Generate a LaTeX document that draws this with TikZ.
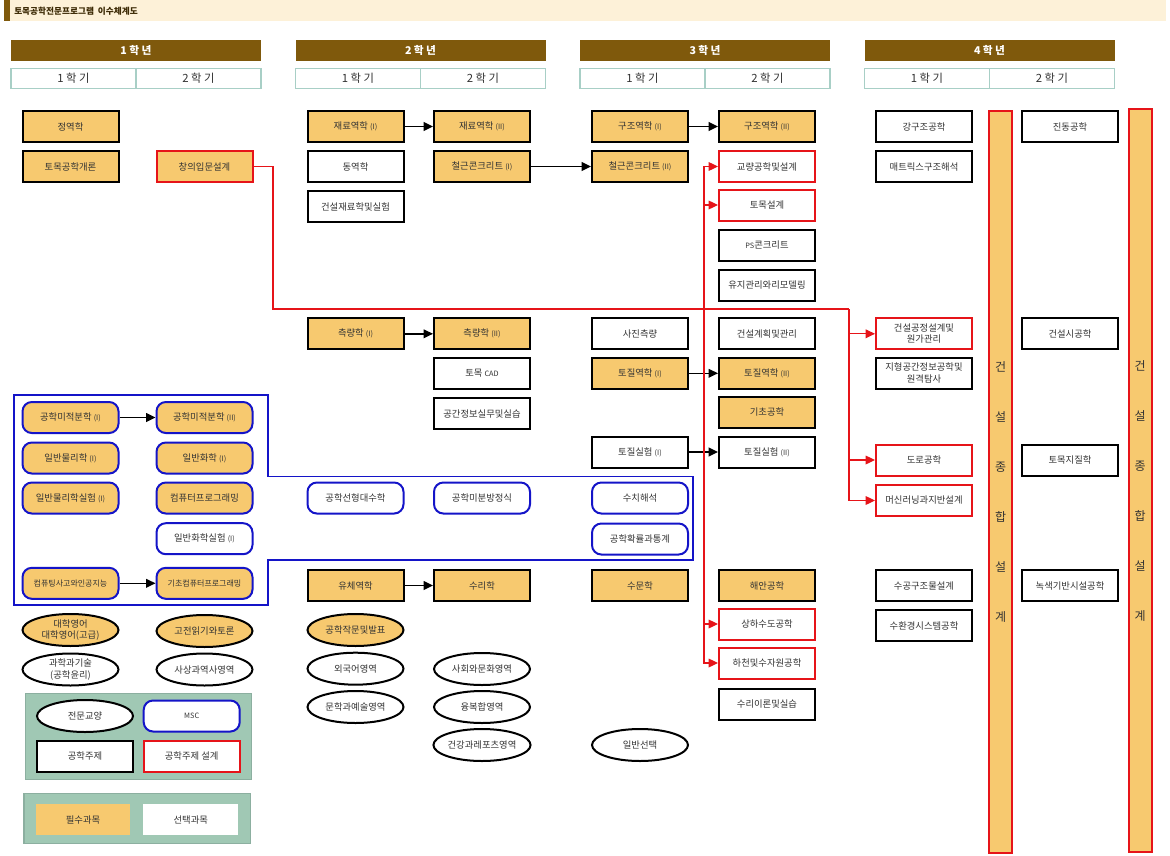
\documentclass[tikz,border=0pt]{standalone}
\usepackage{fontspec}
\newfontfamily\kr{Noto Sans CJK KR}
\usetikzlibrary{shapes.geometric,arrows.meta}
\definecolor{orng}{RGB}{247,201,111}
\definecolor{brn}{RGB}{127,89,12}
\definecolor{beig}{RGB}{253,241,216}
\definecolor{semc}{RGB}{168,207,198}
\definecolor{txt}{RGB}{51,51,51}
\definecolor{redc}{RGB}{230,20,25}
\definecolor{bluec}{RGB}{20,20,200}
\definecolor{legf}{RGB}{160,200,180}
\definecolor{legb}{RGB}{140,175,160}
\newcommand\rnum[1]{{\fontsize{5.5}{6}\selectfont(#1)}}
\newcommand\smallt[1]{{\fontsize{5.5}{6}\selectfont #1}}
\begin{document}
\begin{tikzpicture}[x=0.75pt,y=-0.75pt,
  base/.style={font=\kr\fontsize{7}{8.5}\selectfont, text=txt, inner sep=0pt, align=center},
  coursebox/.style={base, rectangle, draw=black, line width=1.5pt, minimum width=72pt, minimum height=23.25pt},
  required/.style={fill=orng},
  redframe/.style={draw=redc},
  mscbox/.style={base, rectangle, rounded corners=7pt, draw=bluec, line width=1.5pt, minimum width=72pt, minimum height=23.25pt},
  genov/.style={base, ellipse, draw=black, line width=1.5pt, minimum width=72pt, minimum height=24pt},
  arr/.style={line width=1.1pt, -{Triangle[length=7pt,width=6.5pt]}},
  rline/.style={draw=redc, line width=0.8pt},
  rarr/.style={draw=redc, line width=0.9pt, -{Triangle[length=7pt,width=6.5pt]}, redc},
  yearbox/.style={rectangle, fill=brn, minimum width=187.5pt, minimum height=15.75pt, inner sep=0pt, text=white, font=\kr\bfseries\fontsize{8}{9}\selectfont},
  sembox/.style={rectangle, draw=semc, line width=1.2pt, fill=white, minimum width=93.75pt, minimum height=15pt, inner sep=0pt, text=txt, font=\kr\fontsize{8.5}{9}\selectfont},
  bar/.style={rectangle, draw=redc, fill=orng, line width=1.2pt, minimum width=17.25pt, inner sep=0pt},
  barch/.style={text=txt, inner sep=0pt, font=\kr\fontsize{9}{10}\selectfont}
]
\useasboundingbox (0,0) rectangle (1170,856);
\fill[white] (0,0) rectangle (1170,856);
% title bar
\fill[beig] (4,0) rectangle (1166,21);
\fill[brn] (4,0) rectangle (10,21);
\node[anchor=west, inner sep=0pt, text={rgb,255:red,60;green,42;blue,5}, font=\kr\bfseries\fontsize{6.5}{7}\selectfont] (title) at (14,11) {토목공학전문프로그램~~이수체계도};
% year headers
\node[yearbox] (y1) at (136,50.5) {1 학 년};
\node[yearbox] (y2) at (420.5,50.5) {2 학 년};
\node[yearbox] (y3) at (705,50.5) {3 학 년};
\node[yearbox] (y4) at (989.5,50.5) {4 학 년};
\node[sembox] (s11) at (73.5,78.5) {1 학 기};
\node[sembox] (s12) at (198.5,78.5) {2 학 기};
\node[sembox] (s21) at (358,78.5) {1 학 기};
\node[sembox] (s22) at (483,78.5) {2 학 기};
\node[sembox] (s31) at (642.5,78.5) {1 학 기};
\node[sembox] (s32) at (767.5,78.5) {2 학 기};
\node[sembox] (s41) at (927,78.5) {1 학 기};
\node[sembox] (s42) at (1052,78.5) {2 학 기};
% blue MSC frame
\draw[bluec, line width=1.1pt] (14,395) -- (268,395) -- (268,476.7) -- (693,476.7) -- (693,560) -- (268,560) -- (268,605) -- (14,605) -- cycle;
% year 1
\node[coursebox,required] (jy) at (70.5,126.5) {정역학};
\node[coursebox,required] (tg) at (70.5,166.5) {토목공학개론};
\node[coursebox,required,redframe] (cr) at (204.5,166.5) {창의입문설계};
\node[mscbox,required] (mj1) at (70.5,417.5) {공학미적분학 \rnum{I}};
\node[mscbox,required] (mj2) at (204.5,417.5) {공학미적분학 \rnum{II}};
\node[mscbox,required] (ip) at (70.5,458) {일반물리학 \rnum{I}};
\node[mscbox,required] (ih) at (204.5,458) {일반화학 \rnum{I}};
\node[mscbox,required] (ipe) at (70.5,498) {일반물리학실험 \rnum{I}};
\node[mscbox,required] (cp) at (204.5,498) {컴퓨터프로그래밍};
\node[mscbox] (ihe) at (204.5,538.7) {일반화학실험 \rnum{I}};
\node[mscbox,required,font=\kr\fontsize{6}{7}\selectfont] (ct) at (70.5,583.3) {컴퓨팅사고와인공지능};
\node[mscbox,required,font=\kr\fontsize{6}{7}\selectfont] (gc) at (204.5,583.3) {기초컴퓨터프로그래밍};
\node[genov,required] (de) at (70.5,630) {대학영어\\대학영어(고급)};
\node[genov,required] (gd) at (204.5,631) {고전읽기와토론};
\node[genov] (gk) at (70.5,669.5) {과학과기술\\(공학윤리)};
\node[genov] (sy) at (204.5,669.5) {사상과역사영역};
% year 2
\node[coursebox,required] (jr1) at (355.5,126.5) {재료역학 \rnum{I}};
\node[coursebox] (dy) at (355.5,166.5) {동역학};
\node[coursebox] (gjs) at (355.5,206.5) {건설재료학및실험};
\node[coursebox,required] (cl1) at (355.5,333.8) {측량학 \rnum{I}};
\node[mscbox] (sd) at (355.5,498) {공학선형대수학};
\node[coursebox,required] (yc) at (355.5,585.5) {유체역학};
\node[genov,required] (jm) at (355.5,630) {공학작문및발표};
\node[genov] (wg) at (355.5,668.7) {외국어영역};
\node[genov] (ma) at (355.5,707) {문학과예술영역};
\node[coursebox,required] (jr2) at (482,126.5) {재료역학 \rnum{II}};
\node[coursebox,required] (ch1) at (482,166.5) {철근콘크리트 \rnum{I}};
\node[coursebox,required] (cl2) at (482,333.8) {측량학 \rnum{II}};
\node[coursebox] (cad) at (482,373.3) {토목 \smallt{CAD}};
\node[coursebox] (gg) at (482,413.5) {공간정보실무및실습};
\node[mscbox] (mb) at (482,498) {공학미분방정식};
\node[coursebox,required] (sr) at (482,585.5) {수리학};
\node[genov] (sm2) at (482,669) {사회와문화영역};
\node[genov] (yb) at (482,707) {융복합영역};
\node[genov] (gr) at (482,745) {건강과레포츠영역};
% year 3
\node[coursebox,required] (gj1) at (640,126.5) {구조역학 \rnum{I}};
\node[coursebox,required] (ch2) at (640,166.5) {철근콘크리트 \rnum{II}};
\node[coursebox] (sjc) at (640,333.8) {사진측량};
\node[coursebox,required] (tj1) at (640,373.3) {토질역학 \rnum{I}};
\node[coursebox] (ts1) at (640,452) {토질실험 \rnum{I}};
\node[mscbox] (sc) at (640,498) {수치해석};
\node[mscbox] (ht) at (640,539) {공학확률과통계};
\node[coursebox,required] (smh) at (640,585.5) {수문학};
\node[genov] (ils) at (640,745) {일반선택};
\node[coursebox,required] (gj2) at (767,126.5) {구조역학 \rnum{II}};
\node[coursebox,redframe] (gy) at (767,166.5) {교량공학및설계};
\node[coursebox,redframe] (ts) at (767,205) {토목설계};
\node[coursebox] (ps) at (767,245) {\smallt{PS}콘크리트};
\node[coursebox] (yj) at (767,285) {유지관리와리모델링};
\node[coursebox] (gjg) at (767,333.8) {건설계획및관리};
\node[coursebox,required] (tj2) at (767,373.3) {토질역학 \rnum{II}};
\node[coursebox,required] (gc2) at (767,412) {기초공학};
\node[coursebox] (ts2) at (767,452) {토질실험 \rnum{II}};
\node[coursebox,required] (ha) at (767,585.5) {해안공학};
\node[coursebox,redframe] (ss) at (767,624) {상하수도공학};
\node[coursebox,redframe] (hc) at (767,663) {하천및수자원공학};
\node[coursebox] (sri) at (767,704) {수리이론및실습};
% year 4
\node[coursebox] (ggj) at (924,126.7) {강구조공학};
\node[coursebox] (mt) at (924,166.7) {매트릭스구조해석};
\node[coursebox,redframe] (gs) at (924,333.8) {건설공정설계및\\원가관리};
\node[coursebox] (jh) at (924,373) {지형공간정보공학및\\원격탐사};
\node[coursebox,redframe] (dr) at (924,460) {도로공학};
\node[coursebox,redframe] (ml) at (924,500.5) {머신러닝과지반설계};
\node[coursebox] (sg) at (924,585.8) {수공구조물설계};
\node[coursebox] (sh) at (924,625.8) {수환경시스템공학};
\node[coursebox] (jd) at (1070,126.7) {진동공학};
\node[coursebox] (gsg) at (1070,333.8) {건설시공학};
\node[coursebox] (tjj) at (1070,460) {토목지질학};
\node[coursebox] (nk) at (1070,585.8) {녹색기반시설공학};
% capstone bars
\node[bar, minimum height=556.5pt] (bar1) at (1000.7,482) {};
\node[bar, minimum height=557.25pt] (bar2) at (1140.2,480.5) {};
\foreach \ch [count=\i] in {건,설,종,합,설,계}{
  \node[barch] (b1c\i) at (1000.7,317+50*\i) {\ch};
  \node[barch] (b2c\i) at (1140.2,316+50*\i) {\ch};
}
% legend
\node[draw=legb, fill=legf, line width=0.8pt, minimum width=169.5pt, minimum height=64.5pt, inner sep=0pt] (lg1) at (138.7,736.3) {};
\node[genov, fill=white] (lge) at (85,716) {전문교양};
\node[mscbox, fill=white] (lgm) at (191.7,716) {\smallt{MSC}};
\node[coursebox, fill=white] (lgc) at (85,756) {공학주제};
\node[coursebox, fill=white, redframe] (lgd) at (191.7,756) {공학주제 설계};
\node[draw=legb, fill=legf, line width=0.8pt, minimum width=170pt, minimum height=37.5pt, inner sep=0pt] (lg2) at (137.3,818.3) {};
\node[base, fill=orng, minimum width=70.5pt, minimum height=23.25pt] (lgr) at (83,819.5) {필수과목};
\node[base, fill=white, minimum width=71.25pt, minimum height=23.25pt] (lgs) at (190.8,819.5) {선택과목};
% black arrows
\draw[arr] (jr1) -- (jr2);
\draw[arr] (ch1) -- (ch2);
\draw[arr] (gj1) -- (gj2);
\draw[arr] (cl1) -- (cl2);
\draw[arr] (tj1) -- (tj2);
\draw[arr] (ts1) -- (ts2);
\draw[arr] (yc) -- (sr);
\draw[arr] (mj1) -- (mj2);
\draw[arr] (ct) -- (gc);
% red connectors
\coordinate (ka) at (273,309);
\coordinate (kb) at (849,309);
\coordinate (kc) at (704,309);
\draw[rline] (cr.east) -| (ka) -- (kb);
\draw[rarr] (kb) |- (gs.west);
\draw[rarr] (kb) |- (dr.west);
\draw[rarr] (kb) |- (ml.west);
\draw[rarr] (kc) |- (gy.west);
\draw[rarr] (kc) |- (ts.west);
\draw[rarr] (kc) |- (ss.west);
\draw[rarr] (kc) |- (hc.west);
\end{tikzpicture}
\end{document}
